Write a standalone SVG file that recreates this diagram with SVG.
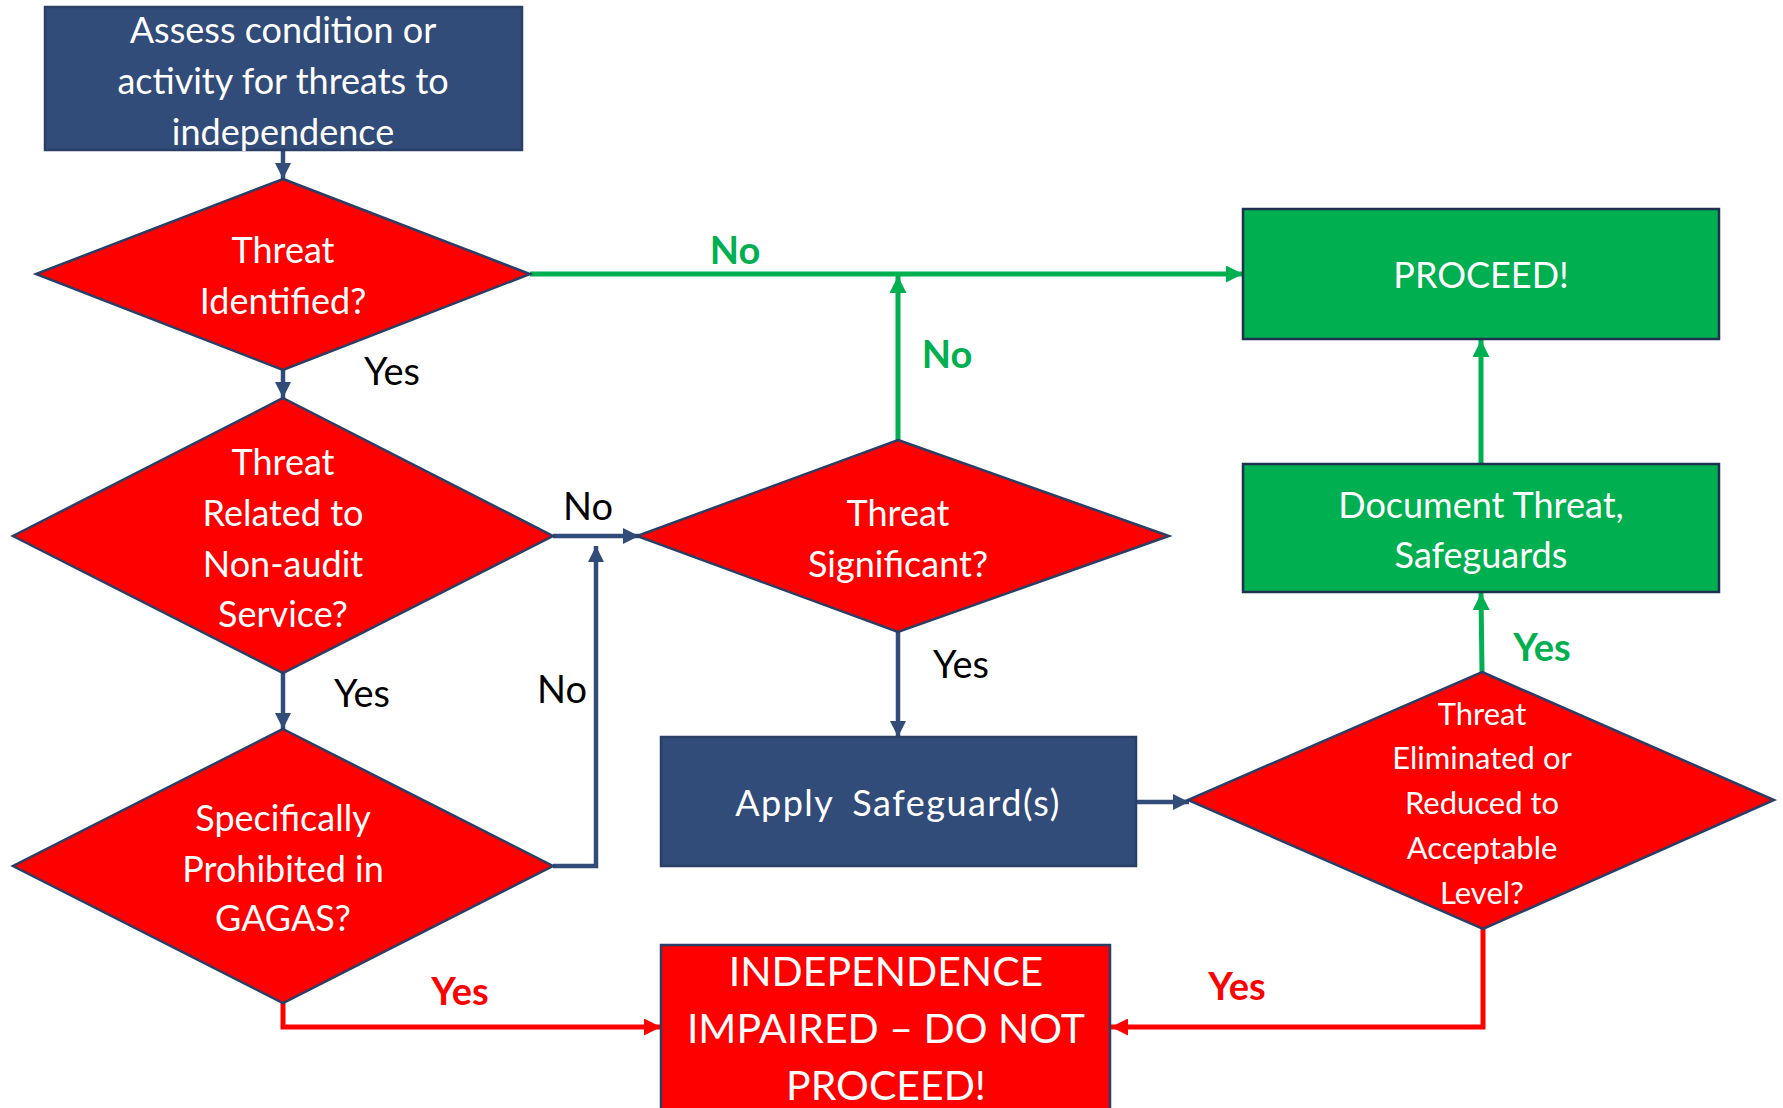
<svg xmlns="http://www.w3.org/2000/svg" width="1783" height="1108" viewBox="0 0 1783 1108">
<style>
.blue{fill:#324C7A;stroke:#2A3F66;stroke-width:2.5}
.red{fill:#FF0000;stroke:#2A3F66;stroke-width:2.5}
.green{fill:#00AF50;stroke:#1F3050;stroke-width:2.5}
.t{font-family:Lato,"Noto Sans",sans-serif;fill:#FFFFFF;text-anchor:middle;font-size:36px}
.ts{font-size:31px}
.tl{font-size:41px}
.lab{font-family:Lato,"Noto Sans",sans-serif;font-size:38px;text-anchor:middle;fill:#000}
.lg{fill:#00AF50;font-weight:bold}
.lr{fill:#FF0000;font-weight:bold}
.cb{fill:none;stroke:#324C7A;stroke-width:4.5}
.cg{fill:none;stroke:#00AF50;stroke-width:5}
.cr{fill:none;stroke:#FF0000;stroke-width:5}
</style>
<defs>
<marker id="ab" viewBox="0 0 10 10" refX="10" refY="5" markerWidth="16" markerHeight="16" markerUnits="userSpaceOnUse" orient="auto"><path d="M0,0 L10,5 L0,10 z" fill="#324C7A"/></marker>
<marker id="ag" viewBox="0 0 10 10" refX="10" refY="5" markerWidth="17" markerHeight="17" markerUnits="userSpaceOnUse" orient="auto"><path d="M0,0 L10,5 L0,10 z" fill="#00AF50"/></marker>
<marker id="ar" viewBox="0 0 10 10" refX="10" refY="5" markerWidth="17" markerHeight="17" markerUnits="userSpaceOnUse" orient="auto"><path d="M0,0 L10,5 L0,10 z" fill="#FF0000"/></marker>
</defs>
<rect width="1783" height="1108" fill="#FFFFFF"/>
<g id="connectors">
<path class="cb" d="M283,151 V179" marker-end="url(#ab)"/>
<path class="cb" d="M283,370 V398" marker-end="url(#ab)"/>
<path class="cb" d="M283,673 V729" marker-end="url(#ab)"/>
<path class="cb" d="M553,536 H639" marker-end="url(#ab)"/>
<path class="cb" d="M553,866 H596 V546" marker-end="url(#ab)"/>
<path class="cb" d="M898,632 V737" marker-end="url(#ab)"/>
<path class="cb" d="M1137,802 H1189" marker-end="url(#ab)"/>
<path class="cg" d="M530,274 H1243" marker-end="url(#ag)"/>
<path class="cg" d="M898,440 V276" marker-end="url(#ag)"/>
<path class="cg" d="M1481,464 V340" marker-end="url(#ag)"/>
<path class="cg" d="M1482,672 L1481,593" marker-end="url(#ag)"/>
<path class="cr" d="M283,1003 V1027 H661" marker-end="url(#ar)"/>
<path class="cr" d="M1483,929 V1027 H1111" marker-end="url(#ar)"/>
<text class="lab" x="392" y="385">Yes</text>
<text class="lab" x="362" y="707">Yes</text>
<text class="lab" x="588" y="520">No</text>
<text class="lab" x="562" y="703">No</text>
<text class="lab" x="961" y="678">Yes</text>
<text class="lab lg" x="735" y="264">No</text>
<text class="lab lg" x="947" y="368">No</text>
<text class="lab lg" x="1542" y="661">Yes</text>
<text class="lab lr" x="460" y="1005">Yes</text>
<text class="lab lr" x="1237" y="1000">Yes</text>
</g>
<g id="assess">
<rect class="blue" x="45" y="7" width="477" height="143"/>
<text class="t" x="283" y="43">Assess condition or</text>
<text class="t" x="283" y="94">activity for threats to</text>
<text class="t" x="283" y="145">independence</text>
</g>
<g id="threat-identified">
<polygon class="red" points="283,179 530,274 283,370 36,274"/>
<text class="t" x="283" y="263">Threat</text>
<text class="t" x="283" y="314">Identified?</text>
</g>
<g id="non-audit">
<polygon class="red" points="283,398 553,536 283,673 13,536"/>
<text class="t" x="283" y="475">Threat</text>
<text class="t" x="283" y="526">Related to</text>
<text class="t" x="283" y="577">Non-audit</text>
<text class="t" x="283" y="627">Service?</text>
</g>
<g id="prohibited">
<polygon class="red" points="283,729 553,866 283,1003 13,866"/>
<text class="t" x="283" y="831">Specifically</text>
<text class="t" x="283" y="882">Prohibited in</text>
<text class="t" x="283" y="931">GAGAS?</text>
</g>
<g id="significant">
<polygon class="red" points="898,440 1169,536 898,632 637,536"/>
<text class="t" x="898" y="526">Threat</text>
<text class="t" x="898" y="577">Significant?</text>
</g>
<g id="proceed">
<rect class="green" x="1243" y="209" width="476" height="130"/>
<text class="t" x="1481" y="288">PROCEED!</text>
</g>
<g id="document">
<rect class="green" x="1243" y="464" width="476" height="128"/>
<text class="t" x="1481" y="518">Document Threat,</text>
<text class="t" x="1481" y="568">Safeguards</text>
</g>
<g id="apply">
<rect class="blue" x="661" y="737" width="475" height="129"/>
<text class="t" x="898" y="816" letter-spacing="1.5" word-spacing="8">Apply Safeguard(s)</text>
</g>
<g id="eliminated">
<polygon class="red" points="1482,672 1774,800 1483,929 1188,800"/>
<text class="t ts" x="1482" y="725">Threat</text>
<text class="t ts" x="1482" y="769">Eliminated or</text>
<text class="t ts" x="1482" y="814">Reduced to</text>
<text class="t ts" x="1482" y="859">Acceptable</text>
<text class="t ts" x="1482" y="904">Level?</text>
</g>
<g id="impaired">
<rect class="red" x="661" y="945" width="449" height="180"/>
<text class="t tl" x="886" y="986">INDEPENDENCE</text>
<text class="t tl" x="886" y="1043">IMPAIRED – DO NOT</text>
<text class="t tl" x="886" y="1100">PROCEED!</text>
</g>
</svg>
